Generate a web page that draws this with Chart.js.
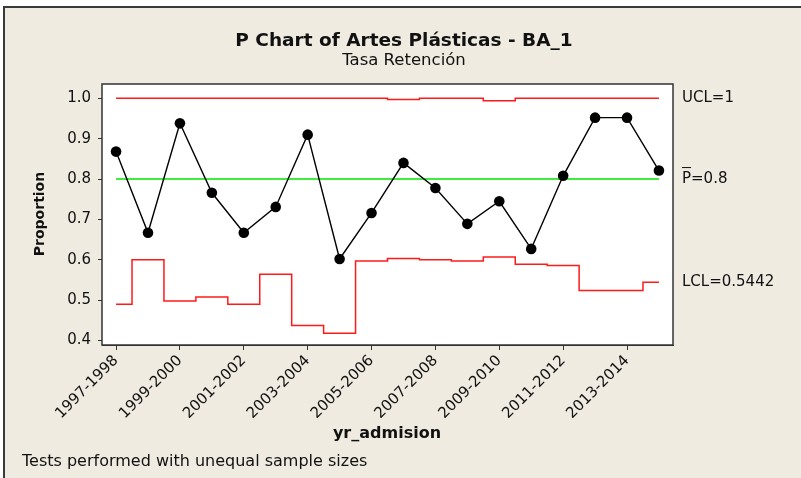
<!DOCTYPE html>
<html>
<head>
<meta charset="utf-8">
<script src="https://cdn.jsdelivr.net/npm/chart.js@4.4.0/dist/chart.umd.min.js"></script>
<style>
    html, body { margin: 0; padding: 0; background: #ffffff; overflow: hidden; width: 801px; height: 478px; }
    #frame {
        position: absolute; left: 3px; top: 6px; right: 0; bottom: 0;
        background: #efebe1; border-left: 2px solid #3a3a3a; border-top: 2px solid #3a3a3a;
    }
    #chart { position: absolute; left: 0; top: 0; }
</style>
</head>
<body>
<div id="frame"></div>
<canvas id="chart" width="801" height="478"></canvas>
<script>
// academic years (x categories)
const categories = [
    '1997-1998', '1998-1999', '1999-2000', '2000-2001', '2001-2002', '2002-2003',
    '2003-2004', '2004-2005', '2005-2006', '2006-2007', '2007-2008', '2008-2009',
    '2009-2010', '2010-2011', '2011-2012', '2012-2013', '2013-2014', '2014-2015'
];
// retention proportion per year
const proportions = [
    0.868, 0.667, 0.938, 0.766, 0.667, 0.731, 0.910, 0.602, 0.716,
    0.840, 0.778, 0.689, 0.745, 0.627, 0.808, 0.952, 0.952, 0.821
];
// control limits (vary with sample size)
const ucl = [
    1, 1, 1, 1, 1, 1, 1, 1, 1,
    0.997, 1, 1, 0.994, 1, 1, 1, 1, 1
];
const lcl = [
    0.490, 0.600, 0.498, 0.508, 0.490, 0.564, 0.437, 0.418, 0.597,
    0.603, 0.600, 0.597, 0.607, 0.589, 0.586, 0.524, 0.524, 0.5442
];
const pBar = 0.8;
const yTicks = [0.4, 0.5, 0.6, 0.7, 0.8, 0.9, 1.0];
const xTickEvery = 2;

const FONT = '"DejaVu Sans", Verdana, sans-serif';

const toPoints = arr => arr.map((v, i) => ({ x: i, y: v }));

const decorations = {
    id: 'decorations',
    beforeDatasetsDraw(chart) {
        const { ctx, chartArea: a } = chart;
        ctx.save();
        ctx.fillStyle = '#ffffff';
        ctx.fillRect(a.left, a.top, a.right - a.left, a.bottom - a.top);
        ctx.restore();
    },
    afterDraw(chart) {
        const { ctx, chartArea: a, scales } = chart;
        ctx.save();
        ctx.strokeStyle = '#333333';
        ctx.lineWidth = 1.5;
        ctx.strokeRect(a.left, a.top, a.right - a.left, a.bottom - a.top);

        ctx.fillStyle = '#111111';
        ctx.textAlign = 'center';
        ctx.textBaseline = 'middle';
        ctx.font = 'bold 18.5px ' + FONT;
        ctx.fillText('P Chart of Artes Plásticas - BA_1', 404, 41);
        ctx.font = '16.5px ' + FONT;
        ctx.fillText('Tasa Retención', 404, 61);

        ctx.font = 'bold 16px ' + FONT;
        ctx.fillText('yr_admision', 387, 434);

        ctx.save();
        ctx.translate(40, 214);
        ctx.rotate(-Math.PI / 2);
        ctx.font = 'bold 14px ' + FONT;
        ctx.fillText('Proportion', 0, 0);
        ctx.restore();

        ctx.textAlign = 'left';
        ctx.font = '16px ' + FONT;
        ctx.fillText('Tests performed with unequal sample sizes', 22, 462);

        // control limit labels at the right of the plot
        const y = scales.y;
        const lx = a.right + 9;
        ctx.font = '15px ' + FONT;
        ctx.fillText('UCL=' + ucl[ucl.length - 1], lx, y.getPixelForValue(ucl[ucl.length - 1]));
        const py = y.getPixelForValue(pBar);
        ctx.fillText('P=' + pBar, lx, py);
        const pw = ctx.measureText('P').width;
        ctx.strokeStyle = '#111111';
        ctx.lineWidth = 1;
        ctx.beginPath();
        ctx.moveTo(lx, py - 11.5);
        ctx.lineTo(lx + pw, py - 11.5);
        ctx.stroke();
        ctx.fillText('LCL=' + lcl[lcl.length - 1], lx, y.getPixelForValue(lcl[lcl.length - 1]));
        ctx.restore();
    }
};

new Chart(document.getElementById('chart'), {
    type: 'line',
    data: {
        datasets: [
            {
                label: 'Proportion',
                data: toPoints(proportions),
                borderColor: '#000000',
                borderWidth: 1.4,
                backgroundColor: '#000000',
                pointRadius: 5.3,
                pointBorderWidth: 0,
                tension: 0
            },
            {
                label: 'P',
                data: [{ x: 0, y: pBar }, { x: categories.length - 1, y: pBar }],
                borderColor: '#00e600',
                borderWidth: 1.6,
                pointRadius: 0
            },
            {
                label: 'UCL',
                data: toPoints(ucl),
                borderColor: '#ff1a1a',
                borderWidth: 1.5,
                pointRadius: 0,
                stepped: 'middle'
            },
            {
                label: 'LCL',
                data: toPoints(lcl),
                borderColor: '#ff1a1a',
                borderWidth: 1.5,
                pointRadius: 0,
                stepped: 'middle'
            }
        ]
    },
    options: {
        responsive: false,
        animation: false,
        layout: { padding: { top: 84, right: 128, left: 0, bottom: 0 } },
        plugins: {
            legend: { display: false },
            tooltip: { enabled: false }
        },
        scales: {
            x: {
                type: 'linear',
                min: -0.44,
                max: categories.length - 1 + 0.44,
                afterBuildTicks: scale => {
                    scale.ticks = categories
                        .map((c, i) => i)
                        .filter(i => i % xTickEvery === 0)
                        .map(v => ({ value: v }));
                },
                afterFit: scale => { scale.height = 133; },
                ticks: {
                    callback: v => categories[v],
                    minRotation: 45,
                    maxRotation: 45,
                    autoSkip: false,
                    padding: 2,
                    color: '#111111',
                    font: { family: FONT, size: 15 }
                },
                grid: { drawOnChartArea: false, tickLength: 5, color: '#333333' },
                border: { color: '#333333' }
            },
            y: {
                min: 0.389,
                max: 1.0354,
                afterBuildTicks: scale => {
                    scale.ticks = yTicks.map(v => ({ value: v }));
                },
                afterFit: scale => { scale.width = 102; },
                ticks: {
                    callback: v => v.toFixed(1),
                    padding: 7,
                    color: '#111111',
                    font: { family: FONT, size: 15 }
                },
                grid: { drawOnChartArea: false, tickLength: 4, color: '#333333' },
                border: { color: '#333333' }
            }
        }
    },
    plugins: [decorations]
});
</script>
</body>
</html>
